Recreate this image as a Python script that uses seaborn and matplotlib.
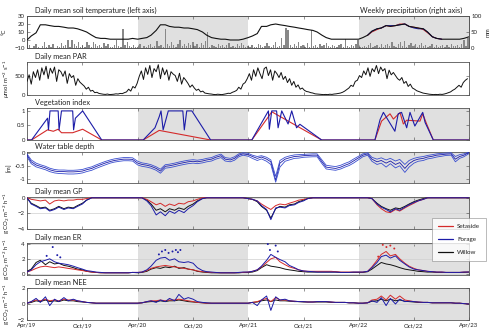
import numpy as np
import pandas as pd
import matplotlib
matplotlib.use("Agg")
import matplotlib.pyplot as plt
import matplotlib.dates as mdates
from matplotlib.lines import Line2D
import seaborn as sns

# ---------------- data ----------------
START, END = "2019-04-01", "2023-04-01"
semi_dates = pd.date_range(START, END, freq="SMS")  # 1st & 15th of each month

soil_temp = [0, 5, 9, 19, 19, 18, 17, 17, 16, 15, 15, 14, 12, 10, 6, 3, 2, 2, 1, 1, 1, 1, 1, 2,
             1, 2, 3, 6, 12, 19, 19, 17, 16, 16, 15, 15, 14, 13, 10, 6, 3, 2, 1, 1, 0, 0, 0, 1,
             3, 5, 8, 17, 17, 19, 20, 19, 18, 17, 16, 15, 14, 13, 12, 10, 6, 3, 1, 1, 1, 1, 1, 1,
             1, 3, 6, 11, 14, 15, 18, 17, 18, 19, 20, 17, 16, 15, 14, 10, 4, 2, 1, 1, 1, 1, 1, 2, 4]
temp22_dates = ["2022-05-01", "2022-05-15", "2022-06-01", "2022-06-15", "2022-07-01", "2022-07-15",
                "2022-08-01", "2022-08-15", "2022-09-01", "2022-09-15", "2022-10-01", "2022-10-15",
                "2022-11-01", "2022-11-15", "2022-12-01", "2022-12-15", "2023-01-01"]
temp22_setaside = [6, 10, 13, 15, 18, 17, 18, 20, 20, 17, 16, 15, 13, 9, 4, 2, 1]
temp22_forage = [6, 11, 14, 15, 18, 18, 18, 19, 20, 17, 15, 14, 14, 10, 4, 2, 1]

precip_mm = [2, 8, 0, 5, 12, 3, 0, 6, 20, 4, 10, 2, 14,
             0, 7, 3, 15, 5, 9, 25, 2, 25, 11, 6, 18, 4,
             10, 3, 20, 8, 2, 20, 12, 5, 9, 3, 15, 6, 11,
             4, 2, 8, 25, 6, 3, 60, 9, 20, 5, 2, 10, 4,
             3, 12, 0, 6, 2, 8, 14, 3, 5, 22, 7, 10, 4,
             58, 12, 6, 18, 9, 3, 14, 25, 7, 11, 5, 16, 8,
             20, 6, 12, 3, 15, 9, 22, 50, 4, 10, 6, 2, 12,
             5, 8, 3, 10, 15, 4, 7, 2, 12, 6, 15, 9, 3,
             6, 2, 10, 4, 3, 12, 8, 2, 5, 15, 6, 3, 9,
             18, 4, 7, 30, 10, 62, 55, 8, 3, 12, 5, 20, 6,
             9, 2, 15, 4, 55, 7, 10, 3, 12, 6, 8, 15, 5,
             3, 10, 6, 2, 8, 12, 4, 28, 6, 3, 9, 5, 11,
             25, 4, 2, 7, 3, 10, 15, 2, 6, 9, 4, 12, 3,
             8, 14, 5, 20, 7, 3, 11, 18, 6, 22, 4, 9, 15,
             5, 12, 3, 8, 16, 6, 10, 2, 7, 12, 4, 9, 3,
             6, 10, 4, 8, 3, 12, 5, 7, 9, 4, 11, 25, 6, 30]
week_dates = pd.date_range(START, periods=len(precip_mm), freq="7D")

par = [350, 520, 280, 600, 450, 650, 380, 700, 520,
       740, 420, 690, 560, 720, 350, 650, 600, 480,
       620, 300, 550, 450, 500, 250, 420, 330, 280,
       230, 150, 200, 100, 120, 60, 70, 40, 30,
       20, 15, 25, 10, 15, 20, 30, 25, 40, 35, 60, 80,
       150, 100, 220, 180,
       300, 480, 620, 400, 700, 530, 760, 450, 680,
       600, 780, 420, 700, 520, 650, 380, 600, 540,
       500, 350, 560, 280, 450, 380, 300, 200, 260,
       180, 120, 150, 80, 100, 50, 40, 30, 25,
       15, 10, 20, 15, 10, 20, 30, 45, 40, 70, 90, 120,
       200, 150, 280, 320,
       420, 550, 380, 650, 480, 700, 550, 420, 680,
       720, 500, 650, 380, 620, 550, 450, 580, 400,
       480, 320, 420, 250, 350, 200, 260, 150, 180,
       120, 90, 80, 60, 50, 30, 25, 20, 15,
       10, 15, 10, 20, 15, 25, 30, 40, 50, 70, 100, 140,
       180, 250, 220, 350,
       380, 500, 450, 620, 520, 700, 480, 680, 600,
       760, 550, 720, 620, 680, 420, 640, 520, 580,
       500, 420, 380, 450, 300, 350, 220, 280, 180,
       150, 110, 90, 70, 50, 40, 30, 20, 15,
       10, 15, 10, 20, 15, 25, 40, 60, 80, 120, 150, 200,
       250, 200, 320, 380, 420]

veg_forage_dates = ["2019-04-01", "2019-04-16", "2019-06-08", "2019-06-11", "2019-06-16", "2019-07-13",
                    "2019-07-16", "2019-07-24", "2019-08-30", "2019-09-02", "2019-09-08", "2019-10-02",
                    "2019-12-04",
                    "2020-04-19", "2020-05-28", "2020-06-11", "2020-06-17", "2020-06-24", "2020-07-11",
                    "2020-08-28", "2020-09-02", "2020-09-10", "2020-09-27", "2020-11-28",
                    "2021-04-13", "2021-06-07", "2021-06-10", "2021-06-18", "2021-07-04", "2021-07-09",
                    "2021-07-21", "2021-08-11", "2021-08-23", "2021-09-08", "2021-09-19", "2021-11-30",
                    "2022-05-25", "2022-06-11", "2022-06-22", "2022-07-30", "2022-08-10", "2022-08-21",
                    "2022-09-07", "2022-09-18", "2022-10-04", "2022-10-30", "2022-11-07", "2022-12-04",
                    "2023-04-01"]
veg_forage = [0, 0, 0.75, 0.35, 1.0, 1.0, 0.35, 1.0, 1.0, 0.35, 0.75, 1.0, 0,
              0, 0.42, 0.8, 1.0, 0.35, 1.0, 1.0, 0.35, 1.0, 1.0, 0,
              0, 1.0, 0.37, 1.0, 1.0, 0.42, 1.0, 0.55, 1.0, 0.42, 0.54, 0,
              0, 0.7, 0.95, 0.3, 0.9, 0.95, 0.42, 0.95, 0.48, 0.95, 0.6, 0,
              0]
veg_setaside_dates = ["2019-04-01", "2019-04-16", "2019-06-08", "2019-06-27", "2019-07-13", "2019-07-24",
                      "2019-08-30", "2019-10-02", "2019-12-04",
                      "2020-04-19", "2020-06-11", "2020-11-28",
                      "2021-04-13", "2021-06-07", "2021-06-18", "2021-11-30",
                      "2022-05-25", "2022-06-16", "2022-07-14", "2022-07-25", "2022-08-16", "2022-08-27",
                      "2022-09-07", "2022-10-21", "2022-10-30", "2022-11-12", "2022-12-04", "2023-04-01"]
veg_setaside = [0, 0, 0.35, 0.3, 0.37, 0.25, 0.25, 0.37, 0,
                0, 0.33, 0,
                0, 0.8, 0.97, 0,
                0, 0.65, 0.9, 0.72, 0.94, 0.55, 0.68, 0.65, 0.9, 0.55, 0, 0]

wt_a = [-0.05, -0.28, -0.40, -0.46, -0.52, -0.59, -0.64, -0.66, -0.66, -0.67, -0.67, -0.66, -0.64, -0.59, -0.54, -0.47, -0.40, -0.34, -0.28, -0.24, -0.21, -0.19, -0.19, -0.20,
        -0.33, -0.39, -0.42, -0.46, -0.54, -0.63, -0.46, -0.44, -0.40, -0.36, -0.32, -0.29, -0.27, -0.29, -0.26, -0.22, -0.19, -0.12, -0.06, -0.19, -0.22, -0.16, -0.05, -0.01,
        -0.03, -0.10, -0.15, -0.12, -0.18, -0.28, -0.90, -0.30, -0.18, -0.13, -0.09, -0.08, -0.07, -0.06, -0.05, -0.05, -0.28, -0.48, -0.51, -0.53, -0.48, -0.41, -0.35, -0.25,
        -0.14, -0.05, -0.01, -0.18, -0.25, -0.20, -0.28, -0.22, -0.32, -0.26, -0.45, -0.30, -0.22, -0.18, -0.15, -0.11, -0.08, -0.05, -0.03, -0.02, -0.01, -0.15, -0.08, -0.05, 0.02]
wt_b = [-0.10, -0.35, -0.47, -0.52, -0.58, -0.65, -0.70, -0.72, -0.72, -0.73, -0.73, -0.72, -0.70, -0.65, -0.60, -0.53, -0.46, -0.40, -0.34, -0.30, -0.27, -0.25, -0.25, -0.26,
        -0.40, -0.45, -0.48, -0.52, -0.60, -0.70, -0.52, -0.50, -0.46, -0.42, -0.38, -0.35, -0.33, -0.35, -0.32, -0.28, -0.25, -0.18, -0.12, -0.25, -0.28, -0.22, -0.10, -0.05,
        -0.08, -0.15, -0.22, -0.17, -0.25, -0.35, -1.05, -0.40, -0.25, -0.20, -0.15, -0.14, -0.12, -0.11, -0.10, -0.10, -0.35, -0.55, -0.58, -0.60, -0.55, -0.48, -0.42, -0.32,
        -0.20, -0.10, -0.05, -0.25, -0.35, -0.30, -0.40, -0.32, -0.45, -0.38, -0.60, -0.42, -0.30, -0.25, -0.22, -0.17, -0.14, -0.10, -0.08, -0.06, -0.05, -0.25, -0.15, -0.10, 0.00]
wt_c = [-0.16, -0.42, -0.54, -0.59, -0.65, -0.72, -0.77, -0.79, -0.80, -0.81, -0.81, -0.80, -0.77, -0.72, -0.67, -0.60, -0.53, -0.47, -0.40, -0.36, -0.33, -0.31, -0.31, -0.32,
        -0.47, -0.52, -0.55, -0.59, -0.67, -0.78, -0.59, -0.57, -0.53, -0.49, -0.45, -0.42, -0.40, -0.42, -0.39, -0.35, -0.32, -0.25, -0.19, -0.32, -0.35, -0.29, -0.16, -0.10,
        -0.14, -0.22, -0.30, -0.24, -0.33, -0.45, -1.12, -0.55, -0.33, -0.28, -0.22, -0.21, -0.18, -0.17, -0.16, -0.16, -0.42, -0.62, -0.65, -0.67, -0.62, -0.55, -0.49, -0.40,
        -0.27, -0.16, -0.10, -0.33, -0.45, -0.40, -0.55, -0.42, -0.58, -0.50, -0.75, -0.55, -0.40, -0.33, -0.30, -0.24, -0.21, -0.17, -0.14, -0.11, -0.10, -0.35, -0.22, -0.16, -0.04]

gp_forage = [0.0, -0.8, -1.1, -1.4, -1.3, -1.7, -1.5, -1.2, -1.5, -1.3, -1.4, -1.1, -0.8, -0.3, 0.0, 0.0, 0.0, 0.0, 0.0, 0.0, 0.0, 0.0, 0.0, 0.0,
             0.0, 0.0, -0.4, -1.0, -2.2, -1.8, -2.3, -1.7, -2.0, -1.6, -1.9, -1.4, -1.0, -0.5, -0.1, 0.0, 0.0, 0.0, 0.0, 0.0, 0.0, 0.0, 0.0, 0.0,
             -0.1, -0.2, -0.4, -1.0, -1.5, -2.8, -1.3, -1.2, -1.3, -1.0, -0.9, -0.6, -0.4, -0.1, 0.0, 0.0, 0.0, 0.0, 0.0, 0.0, 0.0, 0.0, 0.0, 0.0,
             0.0, 0.0, 0.0, -0.1, -0.8, -1.2, -1.5, -1.8, -1.4, -1.6, -1.2, -0.9, -0.6, -0.4, -0.2, 0.0, 0.0, 0.0, 0.0, 0.0, 0.0, 0.0, 0.0, 0.0, 0.0]
gp_setaside = [0.0, -0.2, -0.3, -0.4, -0.3, -0.8, -0.4, -0.3, -0.4, -0.3, -0.3, -0.2, -0.2, -0.1, 0.0, 0.0, 0.0, 0.0, 0.0, 0.0, 0.0, 0.0, 0.0, 0.0,
               0.0, 0.0, -0.2, -0.5, -0.9, -0.7, -1.1, -0.8, -1.0, -0.7, -0.8, -0.5, -0.4, -0.2, 0.0, 0.0, 0.0, 0.0, 0.0, 0.0, 0.0, 0.0, 0.0, 0.0,
               -0.1, -0.2, -0.4, -0.8, -1.2, -1.5, -1.0, -0.8, -0.9, -0.7, -0.5, -0.3, -0.2, -0.1, 0.0, 0.0, 0.0, 0.0, 0.0, 0.0, 0.0, 0.0, 0.0, 0.0,
               0.0, 0.0, 0.0, -0.1, -0.9, -1.4, -1.8, -1.9, -1.5, -1.7, -1.3, -1.0, -0.7, -0.4, -0.2, 0.0, 0.0, 0.0, 0.0, 0.0, 0.0, 0.0, 0.0, 0.0, 0.0]
gp_willow = [0.0, -0.7, -1.0, -1.3, -1.2, -1.6, -1.4, -1.1, -1.4, -1.2, -1.3, -1.0, -0.7, -0.3, 0.0, 0.0, 0.0, 0.0, 0.0, 0.0, 0.0, 0.0, 0.0, 0.0,
             0.0, 0.0, -0.3, -0.8, -1.6, -1.4, -1.8, -1.4, -1.6, -1.3, -1.5, -1.1, -0.8, -0.4, -0.1, 0.0, 0.0, 0.0, 0.0, 0.0, 0.0, 0.0, 0.0, 0.0,
             -0.1, -0.2, -0.5, -1.1, -1.6, -2.6, -1.4, -1.1, -1.2, -0.9, -0.8, -0.5, -0.3, -0.1, 0.0, 0.0, 0.0, 0.0, 0.0, 0.0, 0.0, 0.0, 0.0, 0.0,
             0.0, 0.0, 0.0, -0.1, -0.7, -1.1, -1.4, -1.6, -1.3, -1.4, -1.1, -0.8, -0.5, -0.3, -0.1, 0.0, 0.0, 0.0, 0.0, 0.0, 0.0, 0.0, 0.0, 0.0, 0.0]

er_forage = [0.2, 0.5, 1.2, 1.6, 1.8, 2.0, 1.6, 1.4, 1.3, 1.2, 1.0, 0.8, 0.6, 0.4, 0.3, 0.2, 0.15, 0.1, 0.1, 0.1, 0.1, 0.1, 0.1, 0.15,
             0.15, 0.2, 0.5, 1.0, 1.8, 2.1, 2.2, 1.8, 2.0, 1.6, 1.5, 1.6, 1.4, 0.8, 0.4, 0.25, 0.2, 0.15, 0.1, 0.1, 0.1, 0.1, 0.15, 0.2,
             0.2, 0.3, 0.5, 1.0, 1.8, 2.6, 2.2, 1.9, 1.6, 1.1, 0.8, 0.5, 0.35, 0.3, 0.25, 0.2, 0.2, 0.2, 0.2, 0.2, 0.15, 0.15, 0.15, 0.2,
             0.2, 0.2, 0.3, 0.8, 1.5, 2.3, 2.5, 2.1, 2.4, 1.8, 1.3, 0.9, 0.6, 0.5, 0.4, 0.3, 0.25, 0.2, 0.2, 0.15, 0.15, 0.15, 0.15, 0.2, 0.2]
er_setaside = [0.2, 0.4, 0.7, 0.9, 1.0, 0.9, 0.8, 0.9, 0.8, 0.7, 0.6, 0.5, 0.4, 0.3, 0.2, 0.15, 0.1, 0.1, 0.1, 0.1, 0.1, 0.1, 0.1, 0.15,
               0.15, 0.2, 0.4, 0.7, 0.9, 1.0, 1.1, 1.0, 0.9, 0.8, 0.7, 0.6, 0.5, 0.35, 0.25, 0.2, 0.15, 0.12, 0.1, 0.1, 0.1, 0.1, 0.12, 0.15,
               0.2, 0.3, 0.5, 0.9, 1.5, 2.0, 2.2, 1.6, 1.2, 0.9, 0.7, 0.5, 0.35, 0.3, 0.3, 0.3, 0.3, 0.3, 0.3, 0.25, 0.2, 0.2, 0.2, 0.2,
               0.2, 0.2, 0.3, 0.9, 1.8, 2.6, 3.0, 2.4, 2.6, 2.0, 1.4, 1.0, 0.7, 0.5, 0.4, 0.3, 0.25, 0.2, 0.2, 0.15, 0.15, 0.15, 0.15, 0.2, 0.2]
er_willow = [0.3, 0.6, 1.5, 1.8, 1.2, 1.6, 1.3, 1.4, 1.1, 1.0, 0.8, 0.6, 0.5, 0.3, 0.2, 0.15, 0.1, 0.1, 0.1, 0.1, 0.1, 0.1, 0.1, 0.15,
             0.1, 0.15, 0.3, 0.6, 0.8, 0.7, 0.9, 0.8, 1.0, 0.7, 0.8, 0.6, 0.5, 0.3, 0.2, 0.15, 0.1, 0.1, 0.1, 0.1, 0.1, 0.1, 0.1, 0.15,
             0.15, 0.2, 0.4, 0.8, 1.2, 1.0, 0.9, 0.8, 0.6, 0.5, 0.4, 0.3, 0.25, 0.2, 0.2, 0.2, 0.2, 0.2, 0.2, 0.2, 0.15, 0.15, 0.15, 0.15,
             0.15, 0.15, 0.25, 0.6, 1.1, 1.5, 1.3, 1.2, 1.0, 0.8, 0.6, 0.5, 0.4, 0.3, 0.25, 0.2, 0.2, 0.15, 0.15, 0.15, 0.15, 0.15, 0.15, 0.15, 0.2]
er_dot_dates = ["2019-06-05", "2019-06-25", "2019-07-10", "2019-07-20",
                "2020-06-10", "2020-06-20", "2020-07-01", "2020-07-12", "2020-07-25", "2020-08-05", "2020-08-12", "2020-08-20",
                "2021-06-05", "2021-06-12", "2021-07-01", "2021-07-08",
                "2022-06-05", "2022-06-20", "2022-07-02", "2022-07-15", "2022-07-28"]
er_dot_vals = [2.4, 3.6, 2.5, 2.2,
               2.6, 3.0, 3.2, 2.8, 3.0, 3.2, 2.9, 3.2,
               4.0, 3.2, 3.8, 3.0,
               2.3, 3.9, 3.6, 3.8, 3.4]
er_dot_site = ["Forage"] * 16 + ["Setaside"] * 5

nee_forage = [0.1, 0.3, 0.7, 0.2, 0.9, -0.2, 0.6, 0.3, 0.8, 0.4, 0.6, 0.4, 0.3, 0.2, 0.15, 0.1, 0.1, 0.1, 0.1, 0.1, 0.1, 0.1, 0.1, 0.1,
              0.1, 0.15, 0.3, 0.4, 0.2, 0.5, 0.3, 0.7, 0.4, 1.2, 0.6, 0.8, 0.6, 0.3, 0.2, 0.15, 0.1, 0.1, 0.1, 0.1, 0.1, 0.1, 0.1, 0.1,
              0.1, 0.2, -0.2, 0.5, 1.0, -0.8, 0.9, 0.5, 0.6, 0.4, 0.35, 0.3, 0.3, 0.25, 0.25, 0.3, 0.3, 0.3, 0.25, 0.2, 0.2, 0.2, 0.15, 0.15,
              0.1, 0.1, 0.15, 0.4, 0.2, 0.8, -0.2, 0.7, 0.0, 0.6, 0.3, 0.35, 0.3, 0.25, 0.2, 0.2, 0.15, 0.15, 0.15, 0.15, 0.15, 0.1, 0.1, 0.05, 0.0]
nee_setaside = [0.1, 0.3, 0.5, 0.4, 0.6, 0.4, 0.5, 0.4, 0.6, 0.5, 0.5, 0.4, 0.3, 0.2, 0.15, 0.1, 0.1, 0.1, 0.1, 0.1, 0.1, 0.1, 0.1, 0.1,
                0.1, 0.15, 0.3, 0.4, 0.4, 0.5, 0.4, 0.5, 0.5, 0.6, 0.5, 0.4, 0.3, 0.2, 0.15, 0.1, 0.1, 0.1, 0.1, 0.1, 0.1, 0.1, 0.1, 0.1,
                0.1, 0.2, 0.3, 0.5, 0.7, 0.3, 0.8, 0.5, 0.5, 0.4, 0.35, 0.3, 0.3, 0.25, 0.25, 0.3, 0.3, 0.3, 0.25, 0.2, 0.2, 0.2, 0.15, 0.15,
                0.1, 0.1, 0.15, 0.5, 0.6, 1.0, 0.5, 1.1, 0.6, 1.0, 0.5, 0.4, 0.3, 0.25, 0.2, 0.2, 0.15, 0.15, 0.15, 0.15, 0.15, 0.1, 0.1, 0.05, 0.0]
nee_willow = [0.1, 0.2, 0.4, 0.3, 0.5, 0.3, 0.4, 0.3, 0.5, 0.4, 0.4, 0.3, 0.25, 0.2, 0.15, 0.1, 0.1, 0.1, 0.1, 0.1, 0.1, 0.1, 0.1, 0.1,
              0.1, 0.15, 0.25, 0.3, 0.3, 0.4, 0.3, 0.4, 0.4, 0.5, 0.4, 0.3, 0.25, 0.2, 0.15, 0.1, 0.1, 0.1, 0.1, 0.1, 0.1, 0.1, 0.1, 0.1,
              0.1, 0.2, 0.25, 0.4, 0.5, 0.3, 0.5, 0.4, 0.4, 0.35, 0.3, 0.3, 0.25, 0.25, 0.25, 0.25, 0.25, 0.25, 0.2, 0.2, 0.2, 0.2, 0.15, 0.15,
              0.1, 0.1, 0.15, 0.35, 0.4, 0.6, 0.4, 0.6, 0.4, 0.5, 0.35, 0.3, 0.25, 0.2, 0.2, 0.2, 0.15, 0.15, 0.15, 0.15, 0.15, 0.1, 0.1, 0.05, 0.0]

shaded_periods = [("2020-04-01", "2021-04-01"), ("2022-04-01", "2023-04-01")]
site_names = ["Setaside", "Forage", "Willow"]
site_colors = {"Setaside": "#d42a2a", "Forage": "#1c1ca8", "Willow": "#111111"}

# ---------------- style ----------------
sns.set_style("ticks")
plt.rcParams["font.family"] = ["Lato", "DejaVu Sans"]
plt.rcParams["mathtext.fontset"] = "dejavusans"

fig = plt.figure(figsize=(5.0, 3.36), dpi=100)
L, W = 27 / 500, 442 / 500
px = [(16, 48), (62, 95), (108, 140), (152, 183), (197, 229), (243, 275), (288, 320)]
axes = [fig.add_axes([L, 1 - b / 336, W, (b - t) / 336]) for t, b in px]
t0, t1 = pd.Timestamp(START), pd.Timestamp(END)
TXT = "#222222"


def line(ax, x, y, color, lw=0.7, z=3):
    n = min(len(x), len(y))
    sns.lineplot(x=pd.to_datetime(pd.Index(x[:n])), y=np.asarray(y[:n], float), ax=ax,
                 color=color, linewidth=lw, zorder=z, sort=False, estimator=None)


def style(ax, bottom=False, right=True):
    ax.set_xlim(t0, t1)
    ax.xaxis.set_major_locator(mdates.MonthLocator(bymonth=[4, 10]))
    ax.xaxis.set_major_formatter(mdates.DateFormatter("%b/%y"))
    ax.tick_params(direction="in", length=2, width=0.4, labelsize=4.3, top=True, right=right,
                   pad=1.5, colors="#444444", labelcolor=TXT)
    ax.tick_params(axis="x", labelbottom=bottom, pad=2.5)
    for s in ax.spines.values():
        s.set_linewidth(0.6)
        s.set_color("#555555")
    ax.set_xlabel("")


def shade(ax):
    for a, b in shaded_periods:
        ax.axvspan(pd.Timestamp(a), pd.Timestamp(b), color="#e0e0e0", zorder=0, lw=0)


def title(ax, txt, x=0.018, ha="left"):
    ax.text(x, 1.06, txt, transform=ax.transAxes, ha=ha, va="bottom", fontsize=5.3, color=TXT)


def ylab(ax, txt, pad=1.0):
    ax.set_ylabel(txt, fontsize=4.3, labelpad=pad, color=TXT)


# Panel 1: soil temperature + precipitation
ax = axes[0]
ax2 = ax.twinx()
shade(ax2)
ax2.bar(week_dates, precip_mm, width=4.5, color="#888888", edgecolor="none", linewidth=0,
        zorder=1, align="edge")
ax2.set_ylim(0, 100)
ax2.set_yticks([0, 50, 100])
ax.set_zorder(ax2.get_zorder() + 1)
ax.patch.set_visible(False)
line(ax, temp22_dates, temp22_setaside, site_colors["Setaside"], lw=0.7, z=2)
line(ax, temp22_dates, temp22_forage, site_colors["Forage"], lw=0.7, z=2)
line(ax, semi_dates, soil_temp, "#111111", lw=0.8, z=3)
ax.set_ylim(-10, 30)
ax.set_yticks([-10, 0, 10, 20, 30])
style(ax, right=False)
style(ax2)
ax2.tick_params(left=False, top=False)
ylab(ax, "°C", pad=2)
ax2.set_ylabel("mm", fontsize=4.3, labelpad=3, color=TXT)
title(ax, "Daily mean soil temperature (left axis)")
title(ax, "Weekly precipitation (right axis)", x=0.985, ha="right")

# Panel 2: PAR
ax = axes[1]
line(ax, week_dates, par, "#111111", lw=0.7)
ax.set_ylim(0, 850)
ax.set_yticks([0, 500])
style(ax)
ylab(ax, r"$\mu$mol m$^{-2}$ s$^{-1}$")
title(ax, "Daily mean PAR")

# Panel 3: vegetation index
ax = axes[2]
shade(ax)
line(ax, veg_setaside_dates, veg_setaside, site_colors["Setaside"], lw=0.8)
line(ax, veg_forage_dates, veg_forage, site_colors["Forage"], lw=0.8)
ax.set_ylim(0, 1.1)
ax.set_yticks([0, 0.5, 1])
ax.set_yticklabels(["0", "0.5", "1"])
style(ax)
ax.set_ylabel("")
title(ax, "Vegetation index")

# Panel 4: water table depth
ax = axes[3]
shade(ax)
for wt, c in zip([wt_a, wt_b, wt_c], ["#3b4fd0", "#1c1ca8", "#3b4fd0"]):
    line(ax, semi_dates, wt, c, lw=0.6)
ax.set_ylim(-1.15, 0.02)
ax.set_yticks([-1, -0.5, 0])
ax.set_yticklabels(["-1", "-0.5", "0"])
style(ax)
ylab(ax, "[m]")
title(ax, "Water table depth")

flux_lab = r"g CO$_2$ m$^{-2}$ h$^{-1}$"

# Panel 5: GP
ax = axes[4]
shade(ax)
ax.yaxis.grid(True, color="#cfcfcf", lw=0.5, zorder=1)
line(ax, semi_dates, gp_willow, site_colors["Willow"])
line(ax, semi_dates, gp_setaside, site_colors["Setaside"])
line(ax, semi_dates, gp_forage, site_colors["Forage"])
ax.set_ylim(-4, 0.1)
ax.set_yticks([-4, -2, 0])
style(ax)
ylab(ax, flux_lab)
title(ax, "Daily mean GP")

# Panel 6: ER
ax = axes[5]
shade(ax)
ax.yaxis.grid(True, color="#cfcfcf", lw=0.5, zorder=1)
line(ax, semi_dates, er_willow, site_colors["Willow"])
line(ax, semi_dates, er_setaside, site_colors["Setaside"])
line(ax, semi_dates, er_forage, site_colors["Forage"])
dots = pd.DataFrame({"date": pd.to_datetime(er_dot_dates), "val": er_dot_vals, "site": er_dot_site})
sns.scatterplot(data=dots, x="date", y="val", hue="site", palette=site_colors, s=2, linewidth=0,
                ax=ax, legend=False, zorder=4)
ax.set_ylim(-0.2, 4.15)
ax.set_yticks([0, 2, 4])
style(ax)
ylab(ax, flux_lab)
title(ax, "Daily mean ER")

# Panel 7: NEE
ax = axes[6]
shade(ax)
ax.yaxis.grid(True, color="#cfcfcf", lw=0.5, zorder=1)
line(ax, semi_dates, nee_willow, site_colors["Willow"])
line(ax, semi_dates, nee_setaside, site_colors["Setaside"])
line(ax, semi_dates, nee_forage, site_colors["Forage"])
ax.set_ylim(-2, 2)
ax.set_yticks([-2, 0, 2])
style(ax, bottom=True)
ylab(ax, flux_lab)
title(ax, "Daily mean NEE")

for a in axes:
    a.yaxis.set_label_coords(-0.035, 0.5)
axes[0].yaxis.set_label_coords(-0.045, 0.5)

handles = [Line2D([], [], color=site_colors[s], lw=0.9) for s in site_names]
leg = fig.legend(handles, site_names, loc="upper left", bbox_to_anchor=(432 / 500, 1 - 218 / 336),
                 bbox_transform=fig.transFigure, fontsize=4.5, frameon=True, fancybox=False,
                 handlelength=2.4, labelspacing=1.25, borderpad=0.9, handletextpad=0.7,
                 borderaxespad=0)
leg.get_frame().set_edgecolor("#888888")
leg.get_frame().set_linewidth(0.5)
for t in leg.get_texts():
    t.set_color(TXT)

fig.savefig("out.png", dpi=100)
